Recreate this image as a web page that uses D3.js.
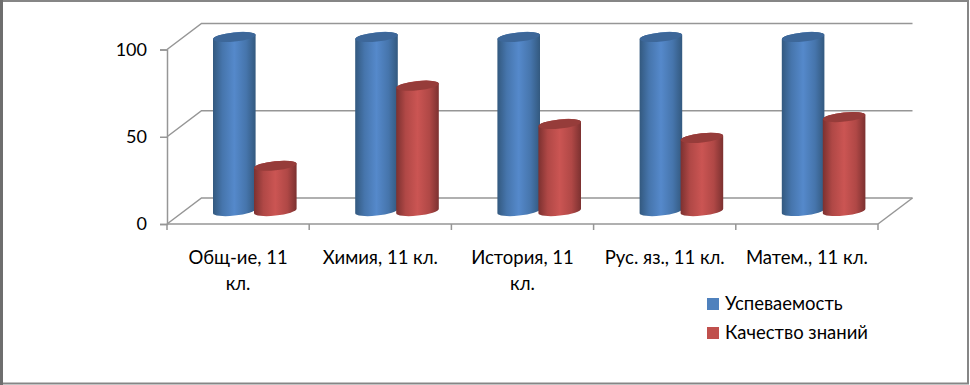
<!DOCTYPE html>
<html>
<head>
<meta charset="utf-8">
<script src="https://cdn.jsdelivr.net/npm/d3@7"></script>
<style>
    html, body { margin: 0; padding: 0; background: #fff; }
    svg { display: block; }
    text { font-family: Lato, "Noto Sans", sans-serif; fill: #000; }
</style>
</head>
<body>
<div id="chart"></div>
<script>
const categories = ['Общ-ие, 11 кл.', 'Химия, 11 кл.', 'История, 11 кл.', 'Рус. яз., 11 кл.', 'Матем., 11 кл.'];
// the two long labels break onto a second line in the picture
const categoryLines = [['Общ-ие, 11', 'кл.'], ['Химия, 11 кл.'], ['История, 11', 'кл.'], ['Рус. яз., 11 кл.'], ['Матем., 11 кл.']];
const seriesNames = ['Успеваемость', 'Качество знаний'];
const uspevaemost = [100, 100, 100, 100, 100];
const kachestvo = [26, 72, 50, 42, 54];
const yTicks = [0, 50, 100];

const seriesColors = [
    { edge: '#33597f', side: '#4675ac', mid: '#5589cb', cap: '#3d6799', key: '#4f81bd' },
    { edge: '#7c3130', side: '#b04846', mid: '#cb5553', cap: '#963c3a', key: '#c0504d' }
];

const width = 970;
const height = 385;

const depthX = 34.5;
const depthY = -26;
const barWidth = 42.6;
const barTilt = 2.2;
const capRy = 4.6;
const fontSize = 18.5;

const x = d3.scaleBand().domain(categories).range([167, 878]);
const y = d3.scaleLinear().domain([0, 100]).range([224, 49.5]);
// bars stand in the middle of the floor, so their zero sits above the front edge
const yBar = d3.scaleLinear().domain([0, 100]).range([211, 37]);
const xSeries = d3.scaleBand().domain(seriesNames).range([46, 46 + 2 * 41]);

const svg = d3.select('#chart')
    .append('svg')
    .attr('width', width)
    .attr('height', height);

// frame, the left side is a bit heavier
svg.append('rect')
    .attr('x', 1).attr('y', 1)
    .attr('width', 967).attr('height', 382.5)
    .attr('fill', '#fff')
    .attr('stroke', '#868686')
    .attr('stroke-width', 2);
svg.append('line')
    .attr('x1', 1.5).attr('x2', 1.5)
    .attr('y1', 0).attr('y2', height)
    .attr('stroke', '#6e6e6e')
    .attr('stroke-width', 3);

const defs = svg.append('defs');
seriesColors.forEach((c, i) => {
    const grad = defs.append('linearGradient').attr('id', 'cyl' + i);
    [[0, c.edge], [0.22, c.side], [0.5, c.mid], [0.78, c.side], [1, c.edge]].forEach(s => {
        grad.append('stop').attr('offset', s[0]).attr('stop-color', s[1]);
    });
});

const gridColor = '#969696';

// back wall and floor lines
const grid = svg.append('g')
    .attr('fill', 'none')
    .attr('stroke', gridColor)
    .attr('stroke-width', 1.5);

grid.selectAll('.back')
    .data(yTicks)
    .join('path')
    .attr('class', 'back')
    .attr('d', d => `M${x.range()[0]},${y(d)}L${x.range()[0] + depthX},${y(d) + depthY}H${x.range()[1] + depthX}`);

grid.append('path')
    .attr('d', `M${x.range()[1]},${y(0)}L${x.range()[1] + depthX},${y(0) + depthY}`);

// y axis
const yAxis = svg.append('g')
    .attr('transform', `translate(${x.range()[0]},0)`)
    .call(d3.axisLeft(y).tickValues(yTicks).tickSize(7).tickPadding(13));
yAxis.select('.domain').attr('stroke', gridColor).attr('stroke-width', 1.5);
yAxis.selectAll('line').attr('stroke', gridColor).attr('stroke-width', 1.5);
yAxis.selectAll('text')
    .style('font-size', '18px')
    .style('font-family', 'Lato, "Noto Sans", sans-serif');

// x axis, ticks fall between the categories
const xAxis = svg.append('g').attr('transform', `translate(0,${y(0)})`);
xAxis.append('line')
    .attr('x1', x.range()[0]).attr('x2', x.range()[1])
    .attr('stroke', gridColor).attr('stroke-width', 1.5);
xAxis.selectAll('.tick')
    .data(categories.map(d => x(d)).concat(x.range()[1]))
    .join('line')
    .attr('class', 'tick')
    .attr('x1', d => d).attr('x2', d => d)
    .attr('y1', 0).attr('y2', 6)
    .attr('stroke', gridColor).attr('stroke-width', 1.5);

xAxis.selectAll('.label')
    .data(categories)
    .join('text')
    .attr('class', 'label')
    .attr('text-anchor', 'middle')
    .attr('font-size', fontSize)
    .attr('y', 40)
    .selectAll('tspan')
    .data((d, i) => categoryLines[i].map(line => ({ line, cat: d })))
    .join('tspan')
    .attr('x', d => x(d.cat) + x.bandwidth() / 2)
    .attr('dy', (d, i) => i ? 26 : 0)
    .text(d => d.line);

// cylinders
const barData = categories.flatMap((cat, i) => [
    { cat, serie: 0, value: uspevaemost[i] },
    { cat, serie: 1, value: kachestvo[i] }
]);

function bodyPath(d) {
    const left = x(d.cat) + xSeries(seriesNames[d.serie]);
    const right = left + barWidth;
    const top = yBar(d.value);
    const bottom = yBar(0);
    const rx = barWidth / 2;
    const arc = `A${rx},${capRy} -6 0 0`;
    return `M${left},${top + barTilt}L${left},${bottom + barTilt}${arc} ${right},${bottom - barTilt}` +
        `L${right},${top - barTilt}${arc} ${left},${top + barTilt}Z`;
}

const bars = svg.append('g').selectAll('g')
    .data(barData)
    .join('g');

bars.append('path')
    .attr('d', bodyPath)
    .attr('fill', d => `url(#cyl${d.serie})`);

bars.append('ellipse')
    .attr('rx', barWidth / 2)
    .attr('ry', capRy)
    .attr('transform', d => `translate(${x(d.cat) + xSeries(seriesNames[d.serie]) + barWidth / 2},${yBar(d.value)})rotate(-6)`)
    .attr('fill', d => seriesColors[d.serie].cap);

// legend
const legend = svg.append('g')
    .selectAll('g')
    .data(seriesNames)
    .join('g')
    .attr('transform', (d, i) => `translate(707,${298 + i * 29})`);

legend.append('rect')
    .attr('width', 12)
    .attr('height', 12)
    .attr('fill', (d, i) => seriesColors[i].key);

legend.append('text')
    .attr('x', 18)
    .attr('y', 12)
    .attr('font-size', fontSize)
    .text(d => d);
</script>
</body>
</html>
